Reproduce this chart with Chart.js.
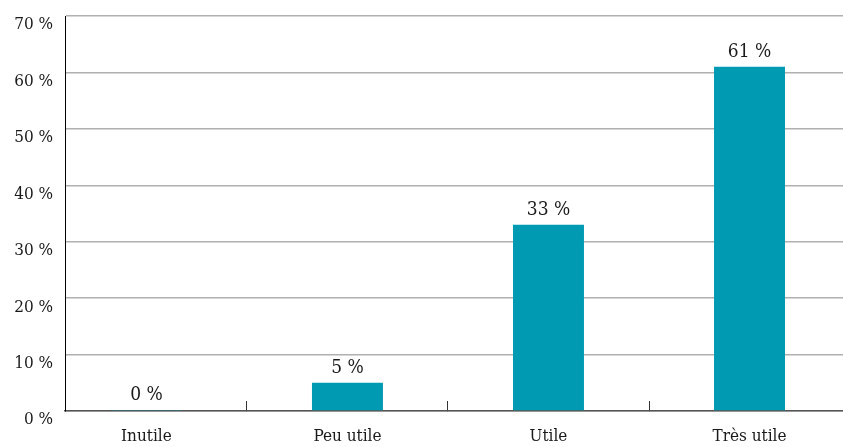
<!DOCTYPE html>
<html>
<head>
<meta charset="utf-8">
<script src="https://cdn.jsdelivr.net/npm/chart.js@4/dist/chart.umd.min.js"></script>
<style>
    html, body { margin: 0; padding: 0; background: #fff; }
    #wrap { width: 843px; height: 447px; }
</style>
</head>
<body>
<div id="wrap"><canvas id="usefulChart"></canvas></div>
<script>
const categories = ['Inutile', 'Peu utile', 'Utile', 'Très utile'];
const percentages = [0, 5, 33, 61];
const yTicks = [0, 10, 20, 30, 40, 50, 60, 70];

const serif = '"DejaVu Serif Condensed", "Liberation Serif", serif';
const textColor = '#1a1a1a';

// write the value above each bar
const valueLabels = {
    id: 'valueLabels',
    afterDatasetsDraw(chart) {
        const ctx = chart.ctx;
        const meta = chart.getDatasetMeta(0);
        ctx.save();
        ctx.font = '19px ' + serif;
        ctx.fillStyle = textColor;
        ctx.textAlign = 'center';
        ctx.textBaseline = 'bottom';
        meta.data.forEach((bar, i) => {
            ctx.fillText(percentages[i] + ' %', bar.x, bar.y - 5);
        });
        ctx.restore();
    }
};

new Chart(document.getElementById('usefulChart'), {
    type: 'bar',
    data: {
        datasets: [{
            data: percentages.map((v, i) => ({ x: i, y: v })),
            backgroundColor: '#009ab3',
            borderWidth: 0,
            minBarLength: 1,
            categoryPercentage: 1,
            barPercentage: 0.353
        }]
    },
    options: {
        responsive: true,
        maintainAspectRatio: false,
        animation: false,
        layout: { padding: { top: 16, right: 0, bottom: 0, left: 0 } },
        plugins: {
            legend: { display: false },
            tooltip: { enabled: false }
        },
        scales: {
            x: {
                type: 'linear',
                offset: false,
                min: -0.405,
                max: 3.465,
                afterBuildTicks: s => { s.ticks = categories.map((c, i) => ({ value: i })); },
                afterFit: s => { s.height = 36; },
                grid: { offset: true, drawOnChartArea: false, tickLength: -10, color: '#333', lineWidth: 1 },
                border: { color: '#555', width: 1.5 },
                ticks: {
                    padding: 25,
                    autoSkip: false,
                    maxRotation: 0,
                    color: textColor,
                    font: { family: serif, size: 17 },
                    callback: v => categories[v]
                }
            },
            y: {
                min: 0,
                max: 70,
                afterBuildTicks: s => { s.ticks = yTicks.map(v => ({ value: v })); },
                afterFit: s => { s.width = 65; s.paddingTop = 0; s.paddingBottom = 0; },
                grid: { color: '#b0b0b0', lineWidth: 1.5, drawTicks: false },
                border: { color: '#000', width: 1 },
                ticks: {
                    padding: 12,
                    labelOffset: 9,
                    color: textColor,
                    font: { family: serif, size: 17 },
                    callback: v => v + ' %'
                }
            }
        }
    },
    plugins: [valueLabels]
});
</script>
</body>
</html>
